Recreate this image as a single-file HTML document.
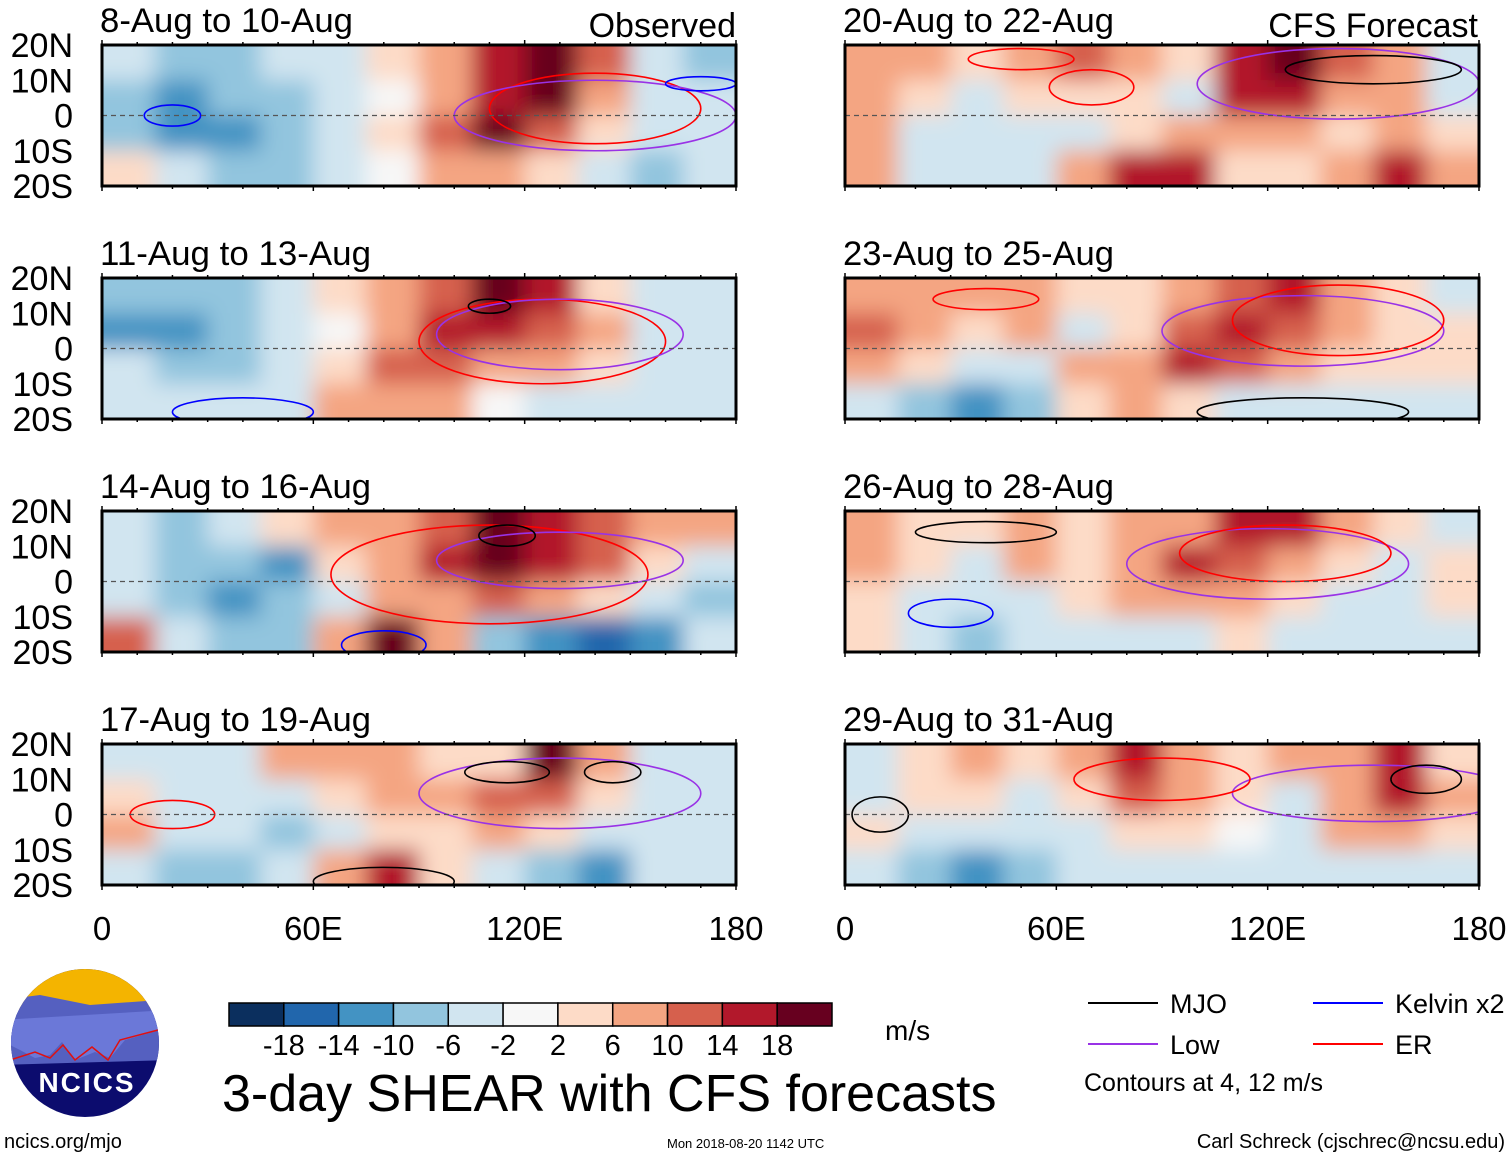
<!DOCTYPE html>
<html><head><meta charset="utf-8">
<style>
html,body{margin:0;padding:0;background:#fff;}
body{width:1510px;height:1158px;overflow:hidden;font-family:"Liberation Sans",sans-serif;}
svg text{font-family:"Liberation Sans",sans-serif;}
</style></head>
<body>
<svg id="chart" width="1510" height="1158" viewBox="0 0 1510 1158" xmlns="http://www.w3.org/2000/svg">
<defs>
<filter id="blur" filterUnits="userSpaceOnUse" x="0" y="0" width="1510" height="960"><feGaussianBlur stdDeviation="11"/></filter>
</defs>
</svg>
<script>
const panelTitles=["8-Aug to 10-Aug","11-Aug to 13-Aug","14-Aug to 16-Aug","17-Aug to 19-Aug","20-Aug to 22-Aug","23-Aug to 25-Aug","26-Aug to 28-Aug","29-Aug to 31-Aug"];
const lonTicks=[0,60,120,180];
const lonLabels=["0","60E","120E","180"];
const latTicks=[20,10,0,-10,-20];
const latLabels=["20N","10N","0","10S","20S"];
const cbBounds=[-18,-14,-10,-6,-2,2,6,10,14,18];
const cbColors=["#0b2f5e","#2166ac","#4393c3","#92c5de","#d1e5f0","#f7f7f7","#fddbc7","#f4a582","#d6604d","#b2182b","#67001f"];
// shear per panel: 4 lat bands (20N-10N,10N-0,0-10S,10S-20S) x 12 lon bins (15 deg)
const shear0=[[-6,-8,-7,-4,-3,3,6,14,18,11,-6,-10],[-9,-11,-7,-7,-4,0,9,16,20,9,-3,-6],[-9,-13,-11,-7,-4,3,11,18,11,3,-6,-4],[4,-6,-9,-7,-4,0,6,9,4,-6,-8,-6]];
const shear1=[[-9,-9,-7,-4,3,6,11,20,14,3,-4,-4],[-11,-11,-9,-4,0,9,14,16,11,9,-4,-4],[-6,-9,-7,-4,3,11,11,9,6,3,-4,-4],[-4,-6,-6,-4,6,9,6,0,-6,-6,-4,-4]];
const shear2=[[-6,-9,-4,3,9,6,11,24,16,11,6,6],[-4,-9,-9,-11,3,9,14,18,16,11,3,-4],[-4,-9,-11,-9,-4,6,9,11,9,3,-4,-9],[11,-6,-9,-9,6,20,9,-9,-13,-16,-11,-4]];
const shear3=[[-4,-6,-4,6,6,9,3,3,20,6,-4,-6],[3,-4,-6,-4,3,9,6,11,11,3,-4,-4],[6,-4,-6,-9,-4,3,3,6,3,-4,-6,-6],[-4,-9,-9,-4,6,14,3,-6,-9,-11,-6,-4]];
const shear4=[[6,6,3,6,11,9,3,14,18,11,6,-6],[9,3,-6,3,3,3,-4,16,14,9,6,-4],[6,-4,-6,-4,-4,3,9,6,6,3,6,3],[9,-4,-4,-4,6,16,14,3,3,6,14,9]];
const shear5=[[6,6,6,9,3,3,6,11,14,6,3,-4],[11,6,3,6,-4,3,11,16,11,6,3,3],[9,3,-4,-4,6,6,14,11,6,3,3,3],[-4,-9,-11,-9,3,6,3,-4,-4,-4,-6,-4]];
const shear6=[[6,3,3,6,3,6,9,14,16,6,3,-4],[6,3,-4,6,3,9,14,11,6,3,-4,3],[3,-4,-6,-4,3,9,6,9,3,-4,-4,3],[3,-6,-9,-6,-4,-4,-4,3,-4,-6,-6,-4]];
const shear7=[[-4,3,6,3,9,14,9,3,6,9,14,3],[-4,3,3,-4,3,11,9,3,-4,9,16,9],[3,-4,-6,-4,-4,3,3,0,-4,6,6,3],[-4,-9,-13,-9,-6,-6,-6,-6,-6,-4,-4,-6]];
const shears=[shear0,shear1,shear2,shear3,shear4,shear5,shear6,shear7];
// contour ellipses: [lonCenter, latCenter, lonRadius, latRadius, kind]
const contours0=[[140,2,30,10,"ER"],[140,0,40,10,"Low"],[20,0,8,3,"Kelvin"],[170,9,10,2,"Kelvin"]];
const contours1=[[125,2,35,12,"ER"],[130,4,35,10,"Low"],[110,12,6,2,"MJO"],[40,-18,20,4,"Kelvin"]];
const contours2=[[110,2,45,14,"ER"],[130,6,35,8,"Low"],[115,13,8,3,"MJO"],[80,-18,12,4,"Kelvin"]];
const contours3=[[130,6,40,10,"Low"],[145,12,8,3,"MJO"],[115,12,12,3,"MJO"],[20,0,12,4,"ER"],[80,-19,20,4,"MJO"]];
const contours4=[[140,9,40,10,"Low"],[150,13,25,4,"MJO"],[70,8,12,5,"ER"],[50,16,15,3,"ER"]];
const contours5=[[130,5,40,10,"Low"],[140,8,30,10,"ER"],[40,14,15,3,"ER"],[130,-18,30,4,"MJO"]];
const contours6=[[120,5,40,10,"Low"],[125,8,30,8,"ER"],[40,14,20,3,"MJO"],[30,-9,12,4,"Kelvin"]];
const contours7=[[150,6,40,8,"Low"],[90,10,25,6,"ER"],[10,0,8,5,"MJO"],[165,10,10,4,"MJO"]];
const contoursAll=[contours0,contours1,contours2,contours3,contours4,contours5,contours6,contours7];
const kindColors={MJO:"#000000",Low:"#9932e6",Kelvin:"#0000ff",ER:"#ff0000"};

const NS="http://www.w3.org/2000/svg";
const svg=document.getElementById("chart");
function mk(tag,attrs,parent){const e=document.createElementNS(NS,tag);for(const k in attrs)e.setAttribute(k,attrs[k]);(parent||svg).appendChild(e);return e;}
function colorFor(v){let i=0;while(i<cbBounds.length&&v>=cbBounds[i])i++;return cbColors[i];}
const panelX=[102,845],panelW=634,panelTop=[45,278,511,744],panelH=141;

shears.forEach((grid,p)=>{
  const col=p<4?0:1,row=p%4;
  const x0=panelX[col],y0=panelTop[row];
  const xs=lon=>x0+lon/180*panelW;
  const ys=lat=>y0+(20-lat)/40*panelH;
  const g=mk("g",{});
  
  
  const cid="clip"+p;
  const cp=mk("clipPath",{id:cid},g);mk("rect",{x:x0,y:y0,width:panelW,height:panelH},cp);
  const cg=mk("g",{"clip-path":"url(#"+cid+")"},g);
  const hg=mk("g",{filter:"url(#blur)"},cg);
  grid.forEach((r,ri)=>{r.forEach((v,ci)=>{
    const c=mk("rect",{x:xs(ci*15)-(ci==0?25:0),y:ys(20-ri*10)-(ri==0?25:0),width:xs(15)-x0+(ci==0||ci==11?25:0)+1,height:ys(10)-y0+(ri==0||ri==3?25:0)+1,fill:colorFor(v)},hg);
    
    
  });});
  contoursAll[p].forEach(cn=>{
    const e=mk("ellipse",{cx:xs(cn[0]),cy:ys(cn[1]),rx:xs(cn[2])-x0,ry:cn[3]/40*panelH,fill:"none",stroke:kindColors[cn[4]],"stroke-width":1.6},cg);
    
    
  });
  const eq=mk("line",{x1:x0,x2:x0+panelW,y1:ys(0),y2:ys(0),stroke:"#555","stroke-dasharray":"5,4","stroke-width":1.2},g);
  
  
  const fr=mk("rect",{x:x0,y:y0,width:panelW,height:panelH,fill:"none",stroke:"#000","stroke-width":3},g);
  
  
  for(let l=0;l<=180;l+=10){const big=l%60==0;
    mk("line",{x1:xs(l),x2:xs(l),y1:y0,y2:y0-(big?5:3),stroke:"#000","stroke-width":1.5},g);
    mk("line",{x1:xs(l),x2:xs(l),y1:y0+panelH,y2:y0+panelH+(big?5:3),stroke:"#000","stroke-width":1.5},g);}
  const t=mk("text",{x:x0-2,y:y0-13,"font-size":34,fill:"#000",textLength:252,lengthAdjust:"spacingAndGlyphs"},g);t.textContent=panelTitles[p];
  if(panelTitles[p].length<16)t.setAttribute("textLength",253);else t.setAttribute("textLength",271);
  
  
  if(col==0){latTicks.forEach((lt,i)=>{const tx=mk("text",{x:73,y:ys(lt)+12,"font-size":34,"text-anchor":"end"},g);tx.textContent=latLabels[i];
    
    });}
  if(row==3){lonTicks.forEach((ln,i)=>{const tx=mk("text",{x:xs(ln),y:940,"font-size":33,"text-anchor":"middle"},g);tx.textContent=lonLabels[i];
    
    });}
});
function txt(s,x,y,size,name,anchor){const t=mk("text",{x:x,y:y,"font-size":size,"text-anchor":anchor||"start"});t.textContent=s;
  
  return t;}
txt("Observed",736,37,34,"observed-label","end");
txt("CFS Forecast",1478,37,34,"cfs-forecast-label","end");
// colorbar
const cbX=229,cbW=603/11;
cbColors.forEach((c,i)=>{const r=mk("rect",{x:cbX+i*cbW,y:1003,width:cbW,height:23,fill:c,stroke:"#000","stroke-width":1.5});
  
  });
cbBounds.forEach((b,i)=>{txt(String(b),cbX+(i+1)*cbW,1055,29,"colorbar-label","middle");});
txt("m/s",885,1040,28,"units-label");
txt("3-day SHEAR with CFS forecasts",222,1111,52,"main-title");
txt("ncics.org/mjo",4,1148,20,"site-label");
txt("Mon 2018-08-20 1142 UTC",667,1148,13,"timestamp");
txt("Carl Schreck (cjschrec@ncsu.edu)",1505,1148,20,"author-label","end");
// legend
const leg=[["MJO",1088,1003,"#000"],["Kelvin x2",1313,1003,"#0000ff"],["Low",1088,1044,"#9932e6"],["ER",1313,1044,"#ff0000"]];
leg.forEach(l=>{const ln=mk("line",{x1:l[1],x2:l[1]+70,y1:l[2],y2:l[2],stroke:l[3],"stroke-width":2});
  
  
  txt(l[0],l[1]+82,l[2]+10,27,"legend-entry");});
txt("Contours at 4, 12 m/s",1084,1091,25,"contour-note");
// logo
const lg=mk("g",{});


const lcp=mk("clipPath",{id:"logoclip"},lg);mk("circle",{cx:85,cy:1043,r:74},lcp);
const lc=mk("g",{"clip-path":"url(#logoclip)"},lg);
mk("rect",{x:0,y:960,width:170,height:170,fill:"#0c0c6e"},lc);
mk("rect",{x:0,y:960,width:170,height:50,fill:"#f4b400"},lc);
mk("path",{d:"M0 1000 L40 995 L90 1005 L160 1000 L170 1060 L0 1065Z",fill:"#5560c0"},lc);
mk("path",{d:"M0 1040 L20 1050 L35 1058 L50 1055 L62 1042 L75 1060 L95 1052 L110 1058 L125 1040 L160 1030 L170 1030 L170 1010 L0 1020Z",fill:"#6b78d8"},lc);
mk("path",{d:"M10 1060 L35 1052 L50 1058 L63 1045 L75 1060 L92 1047 L108 1060 L120 1040 L158 1030",fill:"none",stroke:"#e01010","stroke-width":1.5},lc);
const lt=mk("text",{x:87,y:1092,"font-size":28,"font-weight":"bold",fill:"#fff","text-anchor":"middle","letter-spacing":"2"},lg);lt.textContent="NCICS";
</script>
</body></html>
